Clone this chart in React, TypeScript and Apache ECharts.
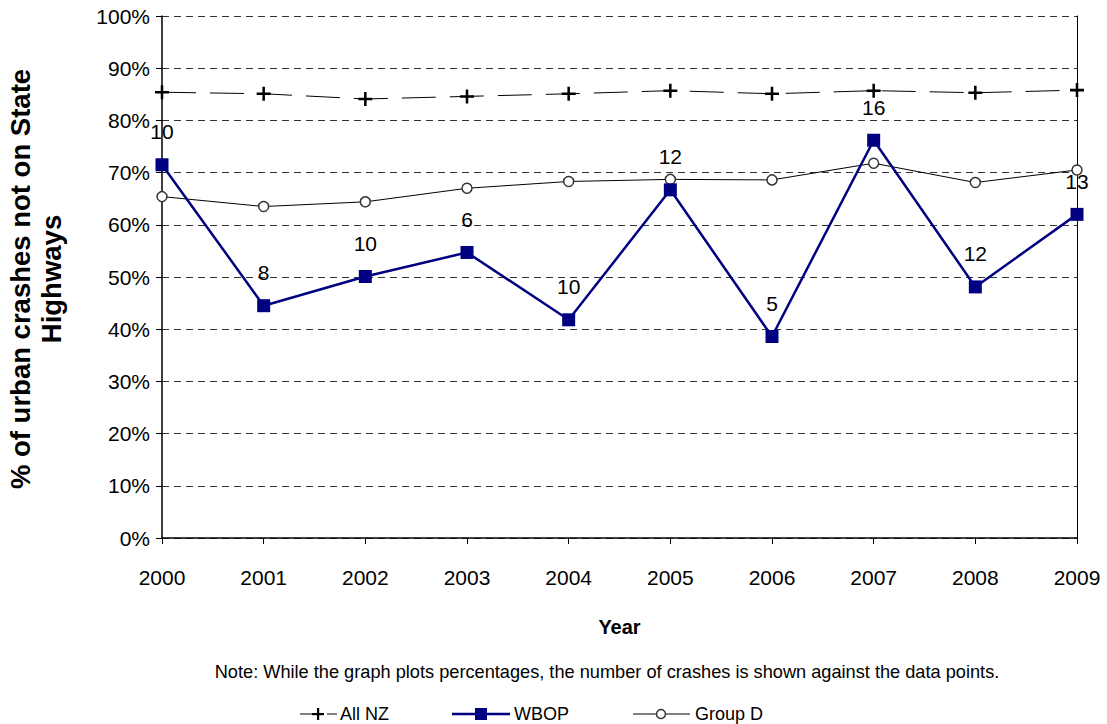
import React, { useEffect, useRef } from "react";
import * as echarts from "echarts";

const years = ["2000", "2001", "2002", "2003", "2004", "2005", "2006", "2007", "2008", "2009"];
const allNZ = [85.4, 85.1, 84.1, 84.6, 85.1, 85.7, 85.1, 85.7, 85.3, 85.8];
const wbop = [71.5, 44.5, 50.1, 54.7, 41.8, 66.7, 38.6, 76.2, 48.1, 62.0];
const groupD = [65.4, 63.5, 64.4, 67.0, 68.3, 68.7, 68.6, 71.8, 68.1, 70.5];
const wbopCounts = [10, 8, 10, 6, 10, 12, 5, 16, 12, 13];
const seriesNames = ["All NZ", "WBOP", "Group D"];

const FONT = "'Liberation Sans', Arial, sans-serif";
const PLUS = "path://M4.1,0h1.8v10h-1.8z M0,4.1h10v1.8h-10z";

export default function App() {
  const ref = useRef<HTMLDivElement>(null);
  useEffect(() => {
    const chart = echarts.init(ref.current!, null, { renderer: "svg" });
    const ly = 714;
    chart.setOption({
      animation: false,
      backgroundColor: "#ffffff",
      textStyle: { fontFamily: FONT },
      grid: { left: 162, right: 30, top: 16, bottom: 186, containLabel: false },
      xAxis: {
        type: "category",
        data: years,
        boundaryGap: false,
        axisLine: { show: true, lineStyle: { color: "#000", width: 1.5 } },
        axisTick: { show: true, length: 6, alignWithLabel: true, lineStyle: { color: "#000" } },
        axisLabel: { color: "#000", fontSize: 21, margin: 29, fontFamily: FONT },
        name: "Year",
        nameLocation: "middle",
        nameGap: 79,
        nameTextStyle: { color: "#000", fontSize: 20, fontWeight: "bold", fontFamily: FONT },
      },
      yAxis: [
        {
          type: "value",
          min: 0,
          max: 100,
          interval: 10,
          axisLine: { show: true, lineStyle: { color: "#000", width: 1.5 } },
          axisTick: { show: true, length: 6, lineStyle: { color: "#000" } },
          axisLabel: { color: "#000", fontSize: 21, margin: 12, formatter: "{value}%", fontFamily: FONT },
          splitLine: { show: true, lineStyle: { color: "#333", type: [7, 5], width: 1 } },
        },
        {
          type: "value",
          min: 0,
          max: 100,
          interval: 10,
          position: "right",
          axisLine: { show: true, lineStyle: { color: "#000", width: 1 } },
          axisTick: { show: false },
          axisLabel: { show: false },
          splitLine: { show: false },
        },
      ],
      series: [
        {
          name: seriesNames[0],
          type: "line",
          data: allNZ,
          symbol: PLUS,
          symbolSize: 14,
          itemStyle: { color: "#000" },
          lineStyle: { color: "#000", width: 1, type: [34, 14] },
          z: 3,
        },
        {
          name: seriesNames[2],
          type: "line",
          data: groupD,
          symbol: "circle",
          symbolSize: 10,
          itemStyle: { color: "#fff", borderColor: "#333", borderWidth: 1.5 },
          lineStyle: { color: "#000", width: 1 },
          z: 3,
        },
        {
          name: seriesNames[1],
          type: "line",
          data: wbop,
          symbol: "rect",
          symbolSize: 13,
          itemStyle: { color: "#000080" },
          lineStyle: { color: "#000080", width: 2.5 },
          label: {
            show: true,
            position: "top",
            distance: 16,
            color: "#000",
            fontSize: 21,
            fontFamily: FONT,
            formatter: (p: any) => String(wbopCounts[p.dataIndex]),
          },
          z: 4,
        },
      ],
      graphic: [
        {
          type: "text",
          x: 36,
          y: 279,
          rotation: Math.PI / 2,
          style: {
            text: "% of urban crashes not on State\nHighways",
            fill: "#000",
            font: `bold 27.5px ${FONT}`,
            textAlign: "center",
            textVerticalAlign: "middle",
            lineHeight: 31,
          },
        },
        {
          type: "text",
          x: 607,
          y: 672,
          style: {
            text: "Note: While the graph plots percentages, the number of crashes is shown against the data points.",
            fill: "#000",
            font: `18.2px ${FONT}`,
            textAlign: "center",
            textVerticalAlign: "middle",
          },
        },
        // legend: All NZ
        { type: "line", shape: { x1: 300, y1: ly, x2: 318, y2: ly }, style: { stroke: "#000", lineWidth: 1 } },
        { type: "rect", shape: { x: 317, y: ly - 6, width: 2.2, height: 12 }, style: { fill: "#000" } },
        { type: "rect", shape: { x: 312, y: ly - 1, width: 12, height: 2.2 }, style: { fill: "#000" } },
        { type: "line", shape: { x1: 327, y1: ly, x2: 337, y2: ly }, style: { stroke: "#000", lineWidth: 1 } },
        {
          type: "text", x: 340, y: ly,
          style: { text: seriesNames[0], fill: "#000", font: `18px ${FONT}`, textAlign: "left", textVerticalAlign: "middle" },
        },
        // legend: WBOP
        { type: "line", shape: { x1: 452, y1: ly, x2: 510, y2: ly }, style: { stroke: "#000080", lineWidth: 2.5 } },
        { type: "rect", shape: { x: 475, y: ly - 6, width: 12, height: 12 }, style: { fill: "#000080" } },
        {
          type: "text", x: 514, y: ly,
          style: { text: seriesNames[1], fill: "#000", font: `18px ${FONT}`, textAlign: "left", textVerticalAlign: "middle" },
        },
        // legend: Group D
        { type: "line", shape: { x1: 633, y1: ly, x2: 690, y2: ly }, style: { stroke: "#000", lineWidth: 1 } },
        { type: "circle", shape: { cx: 661, cy: ly, r: 4.5 }, style: { fill: "#fff", stroke: "#333", lineWidth: 1.5 } },
        {
          type: "text", x: 695, y: ly,
          style: { text: seriesNames[2], fill: "#000", font: `18px ${FONT}`, textAlign: "left", textVerticalAlign: "middle" },
        },
      ],
    });
    return () => chart.dispose();
  }, []);
  return <div ref={ref} style={{ position: "fixed", left: 0, top: 0, width: 1107, height: 724 }} />;
}
